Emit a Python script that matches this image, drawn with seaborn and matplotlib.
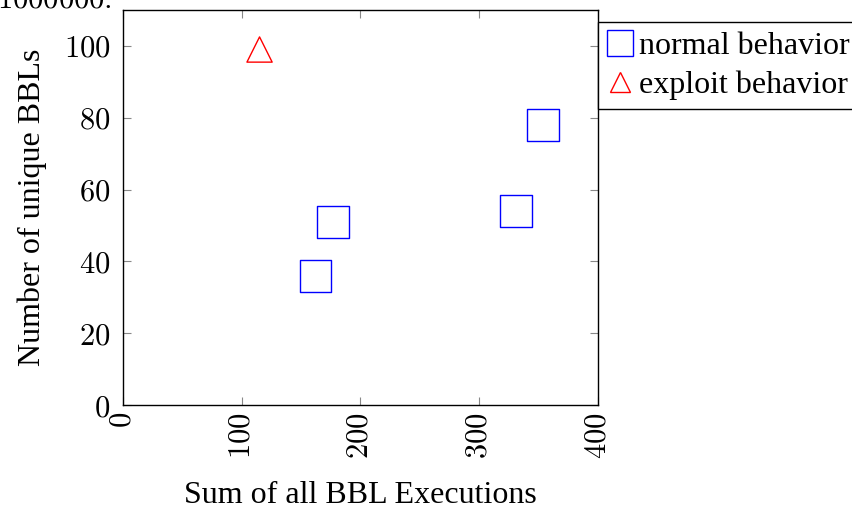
import matplotlib
matplotlib.use("Agg")
import matplotlib.pyplot as plt
import seaborn as sns
import pandas as pd
from matplotlib.lines import Line2D

normal_x = [162, 177, 331, 354]
normal_y = [36, 51, 54, 78]
exploit_x = [115]
exploit_y = [99]
x_ticks = [0, 100, 200, 300, 400]
y_ticks = [0, 20, 40, 60, 80, 100]
labels = ["normal behavior", "exploit behavior"]

sns.set_style("ticks")
plt.rcParams['font.family'] = ['Liberation Serif', 'DejaVu Serif']
plt.rcParams['mathtext.fontset'] = 'cm'
plt.rcParams['text.color'] = 'black'
plt.rcParams['axes.labelcolor'] = 'black'

fig = plt.figure(figsize=(8.53, 5.11), dpi=100)
ax = fig.add_axes([0.1442, 0.2074, 0.701 - 0.1442, 0.9804 - 0.2074])

df_n = pd.DataFrame({"x": normal_x, "y": normal_y})
df_e = pd.DataFrame({"x": exploit_x, "y": exploit_y})
sns.scatterplot(data=df_n, x="x", y="y", ax=ax, marker="s", s=520,
                facecolor="none", edgecolor="blue", linewidth=1.0)
sns.scatterplot(data=df_e, x="x", y="y", ax=ax, marker="^", s=330,
                facecolor="none", edgecolor="red", linewidth=1.0)

ax.set_xlim(0, 400)
ax.set_ylim(0, 110)
ax.set_xticks(x_ticks)
ax.set_yticks(y_ticks)
ax.set_xticklabels([f"${t}$" for t in x_ticks], rotation=90, fontsize=22)
ax.set_yticklabels([f"${t}$" for t in y_ticks], fontsize=22)
ax.tick_params(direction="in", top=True, right=True, length=6, width=0.8,
               color="#888888", labelcolor="black")
ax.tick_params(axis="y", pad=9)
ax.tick_params(axis="x", pad=5)
for sp in ax.spines.values():
    sp.set_linewidth(1.0)
    sp.set_color("black")
ax.set_xlabel("Sum of all BBL Executions", fontsize=23, labelpad=16)
ax.set_ylabel("Number of unique BBLs", fontsize=23, labelpad=12)

handles = [
    Line2D([], [], marker="s", linestyle="none", markersize=19,
           markerfacecolor="none", markeredgecolor="blue", markeredgewidth=1.0),
    Line2D([], [], marker="^", linestyle="none", markersize=15,
           markerfacecolor="none", markeredgecolor="red", markeredgewidth=1.0),
]
leg = ax.legend(handles, labels, loc="upper left", bbox_to_anchor=(1.0, 0.97),
                fontsize=23, frameon=True, fancybox=False, framealpha=1,
                edgecolor="black", handlelength=0.8, handletextpad=0.2,
                borderpad=0.3, labelspacing=0.3, borderaxespad=0)
leg.get_frame().set_linewidth(1.0)

fig.text(-0.003, 1.0, "$1000000.$", fontsize=22, va="center", ha="left")

fig.savefig("out.png", dpi=100)
